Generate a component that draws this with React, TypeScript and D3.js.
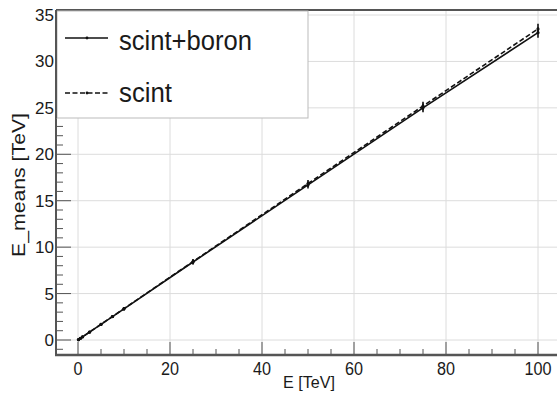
import React from "react";
import * as d3 from "d3";

const energies = [0.1, 0.5, 1, 2.5, 5, 7.5, 10, 25, 50, 75, 100];
const scintBoron = [0.04, 0.17, 0.34, 0.84, 1.68, 2.52, 3.36, 8.4, 16.7, 25.0, 33.1];
const scintBoronErr = [0.02, 0.03, 0.05, 0.08, 0.12, 0.15, 0.18, 0.28, 0.38, 0.46, 0.55];
const scintOnly = [0.04, 0.17, 0.34, 0.85, 1.69, 2.53, 3.38, 8.45, 16.85, 25.2, 33.5];
const scintOnlyErr = [0.02, 0.03, 0.05, 0.08, 0.12, 0.15, 0.18, 0.28, 0.38, 0.46, 0.55];
const xMajorTicks = [0, 20, 40, 60, 80, 100];
const yMajorTicks = [0, 5, 10, 15, 20, 25, 30, 35];
const seriesNames = ["scint+boron", "scint"];

const W = 557;
const H = 394;
const left = 56;
const top = 10;
const bottom = 355;

export default function App() {
  const x = d3.scaleLinear().domain([-5, 105]).range([55, 561]);
  const y = d3.scaleLinear().domain([0, 35]).range([340, 15]);
  const xMinor = d3.range(-5, 106, 5).filter((v) => x(v) > left + 1);
  const yMinor = d3.range(-1, 36, 1).filter((v) => y(v) < bottom - 1 && y(v) > top + 1);
  const line = d3
    .line<number>()
    .x((_, i) => x(energies[i]))
    .y((d) => y(d));
  const series = [
    { name: seriesNames[0], vals: scintBoron, errs: scintBoronErr, dash: "none", len: 133 },
    { name: seriesNames[1], vals: scintOnly, errs: scintOnlyErr, dash: "5,2.5", len: 53 },
  ];
  const font = "'Liberation Sans', Arial, Helvetica, sans-serif";
  const axisCol = "#555";
  const gridCol = "#dcdcdc";
  const textCol = "#1a1a1a";
  return (
    <svg
      width={W}
      height={H}
      style={{ position: "fixed", left: 0, top: 0, background: "#fff" }}
      fontFamily={font}
    >
      <rect x={0} y={0} width={W} height={H} fill="#fff" />
      {/* grid */}
      {xMajorTicks.map((t) => (
        <line key={"gx" + t} x1={x(t)} x2={x(t)} y1={top} y2={bottom} stroke={gridCol} strokeWidth={1} />
      ))}
      {yMajorTicks.map((t) => (
        <line key={"gy" + t} x1={left} x2={W} y1={y(t)} y2={y(t)} stroke={gridCol} strokeWidth={1} />
      ))}
      {/* ticks */}
      {xMinor.map((t) => (
        <line
          key={"tx" + t}
          x1={x(t)}
          x2={x(t)}
          y1={bottom}
          y2={bottom - (t % 20 === 0 ? 13 : 6)}
          stroke={axisCol}
          strokeWidth={1}
        />
      ))}
      {yMinor.map((t) => (
        <line
          key={"ty" + t}
          x1={left}
          x2={left + (t % 5 === 0 ? 15 : 7)}
          y1={y(t)}
          y2={y(t)}
          stroke={axisCol}
          strokeWidth={1}
        />
      ))}
      {/* data */}
      {series.map((s) => (
        <g key={s.name}>
          <path d={line(s.vals) || ""} fill="none" stroke="#111" strokeWidth={1.6} strokeDasharray={s.dash} />
          {s.vals.map((v, i) => (
            <g key={i}>
              <line
                x1={x(energies[i])}
                x2={x(energies[i])}
                y1={y(v - s.errs[i])}
                y2={y(v + s.errs[i])}
                stroke="#111"
                strokeWidth={1.6}
              />
              <circle cx={x(energies[i])} cy={y(v)} r={1.6} fill="#111" />
            </g>
          ))}
        </g>
      ))}
      {/* frame */}
      <line x1={left} x2={W} y1={top} y2={top} stroke={axisCol} strokeWidth={2} />
      <line x1={left} x2={left} y1={top} y2={bottom} stroke={axisCol} strokeWidth={2} />
      <line x1={left - 1} x2={W} y1={bottom} y2={bottom} stroke={axisCol} strokeWidth={2.5} />
      {/* legend */}
      <rect x={left + 1} y={top + 1} width={251} height={107} fill="#fff" stroke="#bbb" strokeWidth={1} />
      <line x1={left} x2={left} y1={top} y2={top + 108} stroke={axisCol} strokeWidth={2} />
      {series.map((s, i) => {
        const ly = i === 0 ? 38 : 93;
        return (
          <g key={"leg" + s.name}>
            <line x1={65} x2={108} y1={ly} y2={ly} stroke="#111" strokeWidth={1.6} strokeDasharray={s.dash} />
            <circle cx={87} cy={ly} r={1.4} fill="#111" />
            <text
              x={119}
              y={i === 0 ? 50 : 102}
              fontSize={27}
              fill={textCol}
              textLength={s.len}
              lengthAdjust="spacingAndGlyphs"
            >
              {s.name}
            </text>
          </g>
        );
      })}
      {/* tick labels */}
      {xMajorTicks.map((t) => (
        <text
          key={"lx" + t}
          x={x(t)}
          y={375}
          fontSize={18}
          textAnchor="middle"
          fill={textCol}
          textLength={String(t).length * 9}
          lengthAdjust="spacingAndGlyphs"
        >
          {t}
        </text>
      ))}
      {yMajorTicks.map((t) => (
        <text key={"ly" + t} x={54} y={y(t) + 6} fontSize={17} textAnchor="end" fill={textCol}>
          {t}
        </text>
      ))}
      {/* axis titles */}
      <text
        x={309}
        y={388}
        fontSize={17}
        textAnchor="middle"
        fill={textCol}
        textLength={52}
        lengthAdjust="spacingAndGlyphs"
      >
        E [TeV]
      </text>
      <text
        transform={`translate(25,185) rotate(-90)`}
        fontSize={17.5}
        textAnchor="middle"
        fill={textCol}
        textLength={144}
        lengthAdjust="spacingAndGlyphs"
      >
        E_means [TeV]
      </text>
    </svg>
  );
}
